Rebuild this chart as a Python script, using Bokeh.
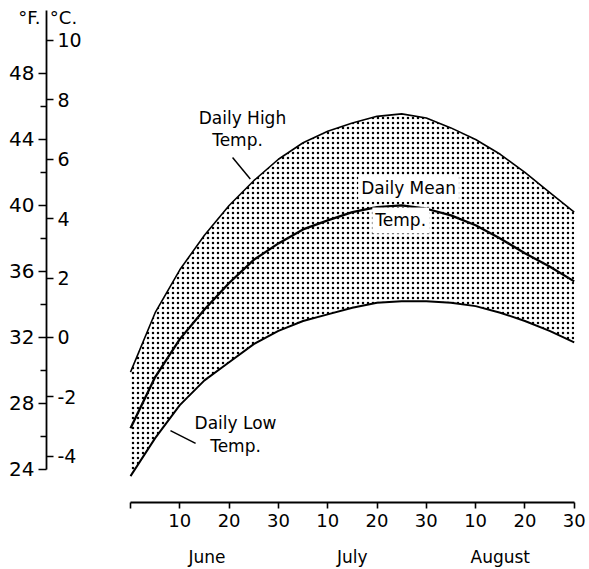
from bokeh.plotting import figure
from bokeh.models import Range1d, LinearAxis, FixedTicker, Label
from bokeh.embed import file_html
from bokeh.resources import INLINE

# ---- data ----
days = [0, 5, 10, 15, 20, 25, 30, 35, 40, 45, 50, 55, 60, 65, 70, 75, 80, 85, 90]
high = [29.9, 33.5, 36.1, 38.2, 40.0, 41.5, 42.8, 43.8, 44.5, 45.0, 45.4, 45.55, 45.3, 44.7, 44.0, 43.1, 42.0, 40.8, 39.6]
mean = [26.5, 29.6, 31.9, 33.7, 35.3, 36.7, 37.7, 38.55, 39.1, 39.6, 39.9, 40.0, 39.8, 39.4, 38.8, 38.0, 37.1, 36.3, 35.4]
low = [23.6, 25.9, 27.9, 29.4, 30.5, 31.6, 32.4, 33.0, 33.4, 33.8, 34.1, 34.2, 34.2, 34.1, 33.9, 33.5, 33.0, 32.4, 31.7]

x_ticks = [0, 10, 20, 30, 40, 50, 60, 70, 80, 90]
x_tick_labels = ["", "10", "20", "30", "10", "20", "30", "10", "20", "30"]
month_pos = [15.5, 45, 75]
month_labels = ["June", "July", "August"]
f_ticks = [24, 28, 32, 36, 40, 44, 48]
f_minor = [26, 30, 34, 38, 42, 46]
c_ticks = [-4, -2, 0, 2, 4, 6, 8, 10]
c_tick_labels = ["-4", "-2", "0", "2", "4", "6", "8", "10"]

# ---- layout ----
X0, X1 = -26.37, 93.1
Y0, Y1 = 22.0, 52.42
AXIS_X = -17.04
FONT = "DejaVu Sans"

p = figure(width=589, height=569, output_backend="svg", toolbar_location=None,
           x_range=Range1d(X0, X1), y_range=Range1d(Y0, Y1),
           x_axis_type=None, y_axis_type=None,
           min_border_left=0, min_border_right=0, min_border_top=0, min_border_bottom=67)
p.outline_line_color = None
p.background_fill_color = "white"
p.extra_y_ranges = {"c": Range1d((Y0 - 32) / 1.8, (Y1 - 32) / 1.8)}

# stipple band
p.varea(x=days, y1=low, y2=high, fill_alpha=0, hatch_pattern="dot",
        hatch_color="black", hatch_scale=5, hatch_weight=1.4)
p.line(days, high, line_color="black", line_width=1.6)
p.line(days, mean, line_color="black", line_width=2.3)
p.line(days, low, line_color="black", line_width=2.0)

# leader lines
p.segment(x0=[20.7, 8.1], y0=[42.9, 26.36], x1=[24.3, 13.2], y1=[41.6, 25.58],
          line_color="black", line_width=1.5)

# axes
fax = LinearAxis(fixed_location=AXIS_X, bounds=(24, 51.8),
                 ticker=FixedTicker(ticks=f_ticks, minor_ticks=f_minor),
                 major_tick_out=8, major_tick_in=0, minor_tick_out=6, minor_tick_in=0,
                 major_label_standoff=4, major_label_text_font_size="20px",
                 major_label_text_font=FONT, major_label_text_color="black",
                 axis_line_width=1.8, major_tick_line_width=1.6, minor_tick_line_width=1.6)
p.add_layout(fax, "left")

cax = LinearAxis(y_range_name="c", fixed_location=AXIS_X, axis_line_color=None,
                 ticker=FixedTicker(ticks=c_ticks, minor_ticks=[]),
                 major_label_overrides={t: s for t, s in zip(c_ticks, c_tick_labels)},
                 major_tick_out=7, major_tick_in=0, minor_tick_line_color=None,
                 major_label_standoff=4, major_label_text_font_size="19px",
                 major_label_text_font=FONT, major_label_text_color="black",
                 major_tick_line_width=1.4)
p.add_layout(cax, "right")

xax = LinearAxis(bounds=(0, 90),
                 ticker=FixedTicker(ticks=x_ticks, minor_ticks=[]),
                 major_label_overrides={t: s for t, s in zip(x_ticks, x_tick_labels)},
                 major_tick_out=6, major_tick_in=0, minor_tick_line_color=None,
                 major_label_standoff=5, major_label_text_font_size="18px",
                 major_label_text_font=FONT, major_label_text_color="black",
                 axis_line_width=2, major_tick_line_width=1.6)
p.add_layout(xax, "below")

max_ = LinearAxis(axis_line_color=None, major_tick_line_color=None,
                  minor_tick_line_color=None, major_tick_out=0, major_tick_in=0,
                  ticker=FixedTicker(ticks=month_pos, minor_ticks=[]),
                  major_label_overrides={t: s for t, s in zip(month_pos, month_labels)},
                  major_label_standoff=17, major_label_text_font_size="17px",
                  major_label_text_font=FONT, major_label_text_color="black")
p.add_layout(max_, "below")

def lab(text, x, y, bg=None, size="17px"):
    kw = dict(x=x, y=y, text=text, text_align="center", text_baseline="middle",
              text_font=FONT, text_font_size=size, text_color="black")
    if bg:
        kw.update(background_fill_color=bg, padding=3)
    p.add_layout(Label(**kw))

lab("Daily High", 22.7, 45.33)
lab("Temp.", 21.7, 43.94)
lab("Daily Mean", 56.4, 41.03, bg="white")
lab("Temp.", 54.8, 39.09, bg="white")
lab("Daily Low", 21.3, 26.79)
lab("Temp.", 21.3, 25.45)
lab("°F.", -20.5, 51.39, size="18px")
lab("°C.", -13.6, 51.39, size="18px")

open("out.html", "w").write(file_html(p, INLINE))
